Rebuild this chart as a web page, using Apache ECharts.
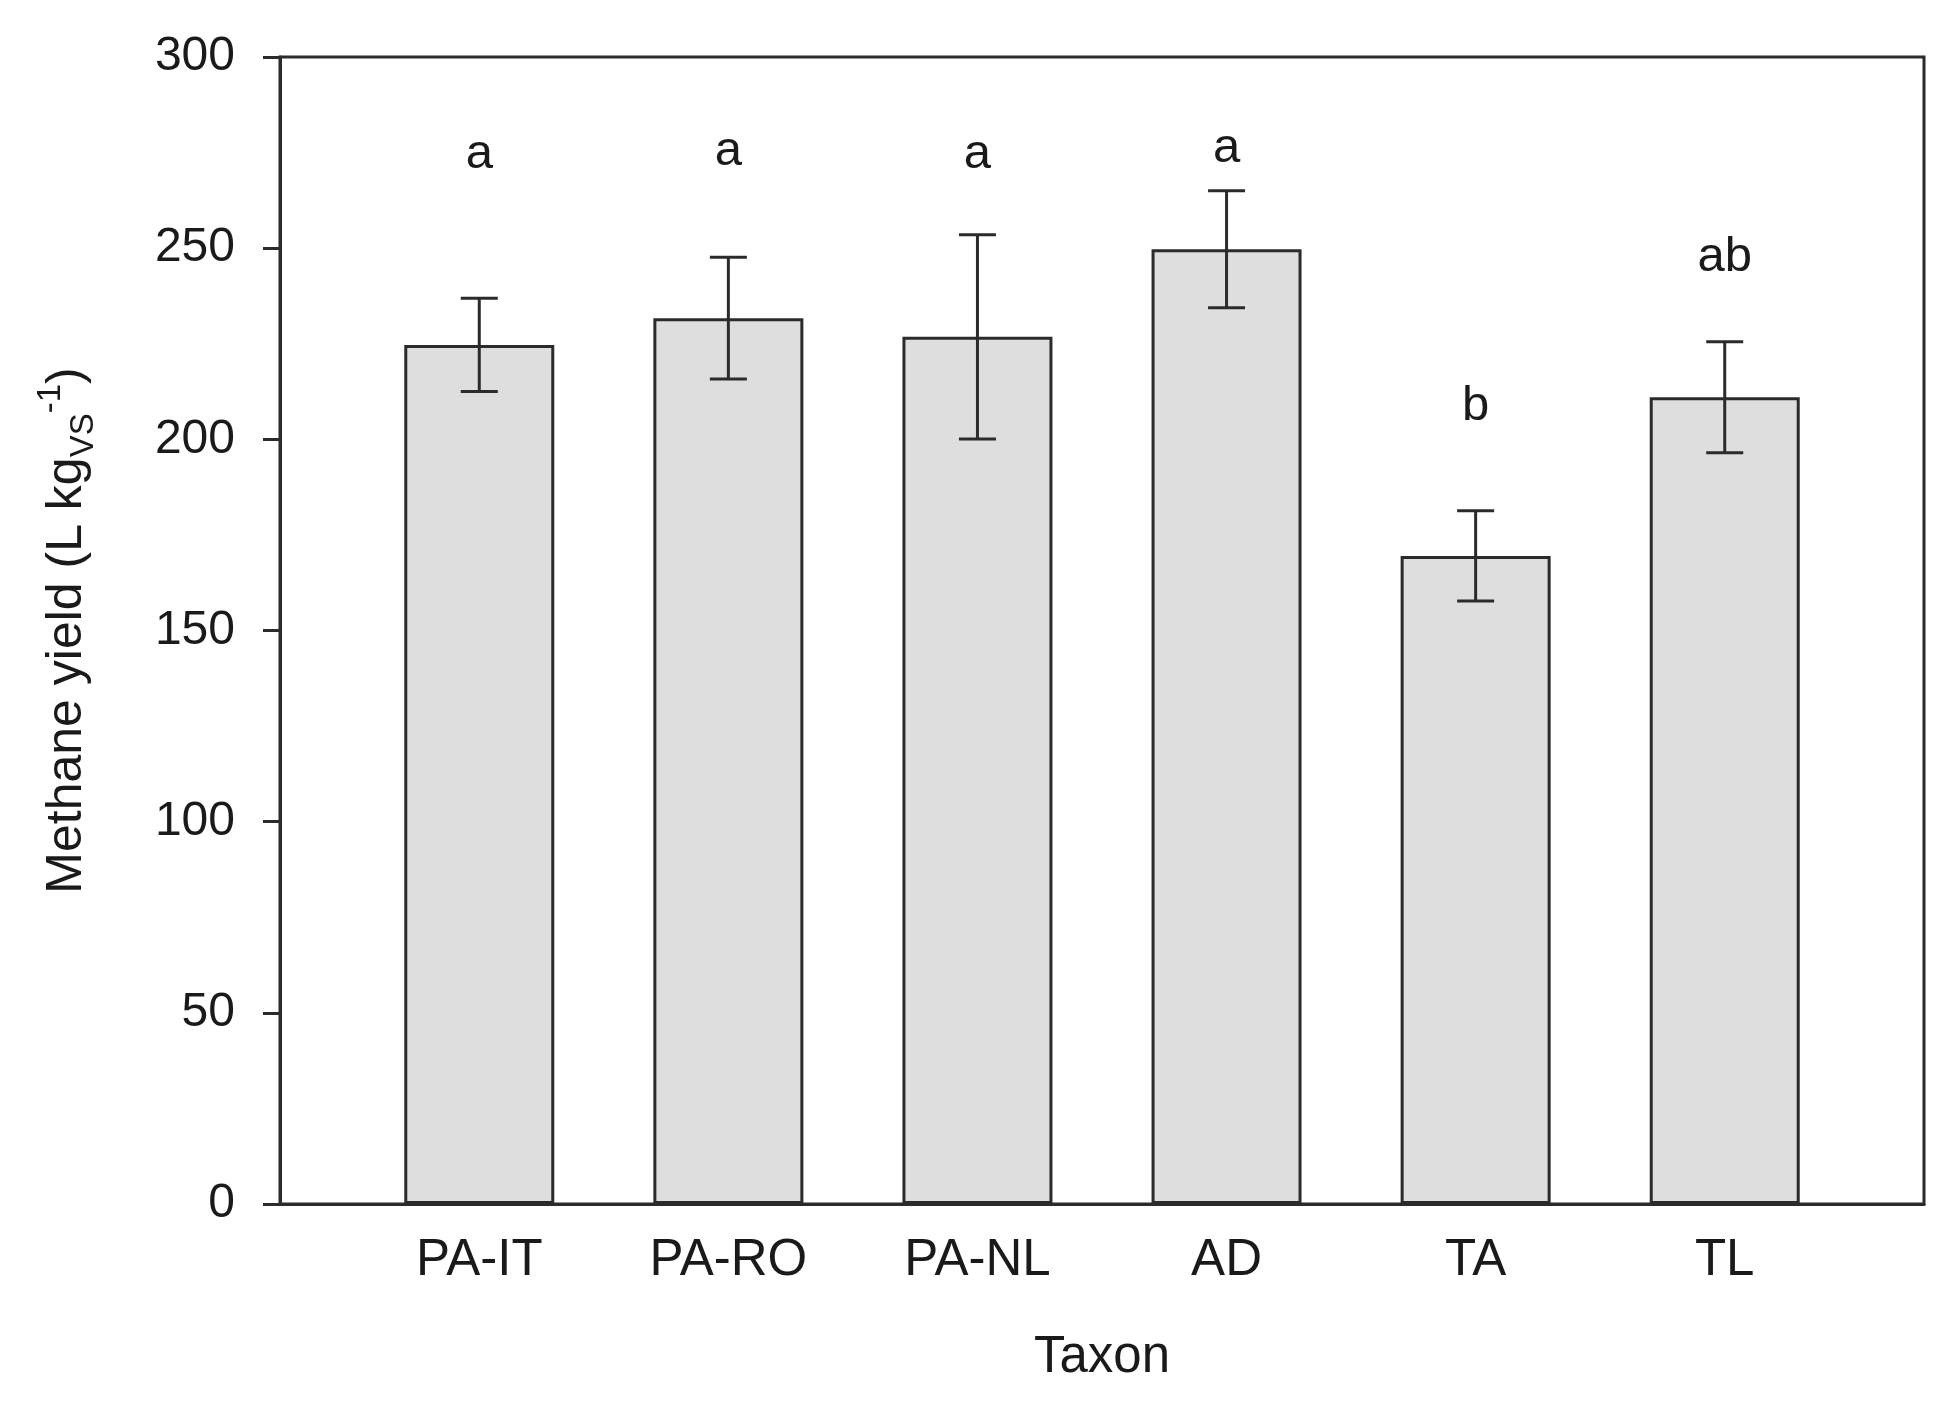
<!DOCTYPE html>
<html>
<head>
<meta charset="utf-8">
<script src="https://cdn.jsdelivr.net/npm/echarts@6/dist/echarts.min.js"></script>
<style>
  html, body { margin: 0; padding: 0; background: #fff; }
  #chart { width: 1955px; height: 1406px; }
</style>
</head>
<body>
<div id="chart"></div>
<script>
// values
const categories = ['PA-IT', 'PA-RO', 'PA-NL', 'AD', 'TA', 'TL'];
const methaneYield = [224.7, 231.7, 226.8, 249.7, 169.5, 211.0];
const stdError = [12.2, 15.9, 26.7, 15.3, 11.8, 14.5];
const letters = ['a', 'a', 'a', 'a', 'b', 'ab'];
const letterY = [274.6, 275.2, 274.5, 276.2, 208.5, 247.5];
const yTicks = [0, 50, 100, 150, 200, 250, 300];

const font = 'Liberation Sans, Arial, sans-serif';
const ink = '#1a1a1a';
const lineCol = '#2b2b2b';

const barData = methaneYield.map((v, i) => [i, v]);
const errData = methaneYield.map((v, i) => [i, v - stdError[i], v + stdError[i]]);
const letterData = letterY.map((v, i) => [i, v]);

const chart = echarts.init(document.getElementById('chart'));

chart.setOption({
  backgroundColor: '#fff',
  animation: false,
  grid: {
    left: 280,
    top: 57,
    width: 1644,
    height: 1147,
    show: true,
    borderColor: lineCol,
    borderWidth: 3
  },
  xAxis: {
    type: 'value',
    min: -0.8,
    max: 5.8,
    name: 'Taxon',
    nameLocation: 'middle',
    nameGap: 128,
    nameTextStyle: { fontSize: 51, fontFamily: font, color: ink },
    axisLine: { show: true, onZero: false, lineStyle: { color: lineCol, width: 3 } },
    axisTick: { show: false },
    splitLine: { show: false },
    axisLabel: {
      customValues: [0, 1, 2, 3, 4, 5],
      formatter: v => categories[Math.round(v)],
      fontSize: 51,
      fontFamily: font,
      color: ink,
      margin: 31
    }
  },
  yAxis: {
    type: 'value',
    min: yTicks[0],
    max: yTicks[yTicks.length - 1],
    interval: 50,
    name: '{t|Methane yield (L kg}{sub|VS}{sup|-1}{t|)}',
    nameLocation: 'middle',
    nameRotate: 90,
    nameGap: 180,
    nameTextStyle: {
      fontFamily: font,
      color: ink,
      rich: {
        t: { fontSize: 50, fontFamily: font, color: ink, lineHeight: 66 },
        sub: { fontSize: 33, fontFamily: font, color: ink, lineHeight: 33, verticalAlign: 'bottom' },
        sup: { fontSize: 33, fontFamily: font, color: ink, lineHeight: 33, verticalAlign: 'top' }
      }
    },
    axisLine: { show: true, onZero: false, lineStyle: { color: lineCol, width: 3 } },
    axisTick: { show: true, inside: false, length: 17, lineStyle: { color: lineCol, width: 3 } },
    splitLine: { show: false },
    axisLabel: { fontSize: 48, fontFamily: font, color: ink, margin: 45 }
  },
  series: [
    {
      type: 'bar',
      data: barData,
      barWidth: 150,
      itemStyle: { color: '#dedede', borderColor: lineCol, borderWidth: 3 }
    },
    {
      type: 'custom',
      data: errData,
      z: 5,
      renderItem: (params, api) => {
        const x = api.value(0);
        const lo = api.coord([x, api.value(1)]);
        const hi = api.coord([x, api.value(2)]);
        const half = 18.5;
        const style = { stroke: lineCol, lineWidth: 3 };
        return {
          type: 'group',
          children: [
            { type: 'line', shape: { x1: lo[0], y1: lo[1], x2: hi[0], y2: hi[1] }, style },
            { type: 'line', shape: { x1: hi[0] - half, y1: hi[1], x2: hi[0] + half, y2: hi[1] }, style },
            { type: 'line', shape: { x1: lo[0] - half, y1: lo[1], x2: lo[0] + half, y2: lo[1] }, style }
          ]
        };
      }
    },
    {
      // significance letters above the bars
      type: 'custom',
      data: letterData,
      z: 6,
      renderItem: (params, api) => {
        const p = api.coord([api.value(0), api.value(1)]);
        return {
          type: 'text',
          x: p[0],
          y: p[1],
          style: {
            text: letters[params.dataIndex],
            fill: ink,
            font: '49px ' + font,
            align: 'center',
            verticalAlign: 'middle'
          }
        };
      }
    }
  ]
});
</script>
</body>
</html>
